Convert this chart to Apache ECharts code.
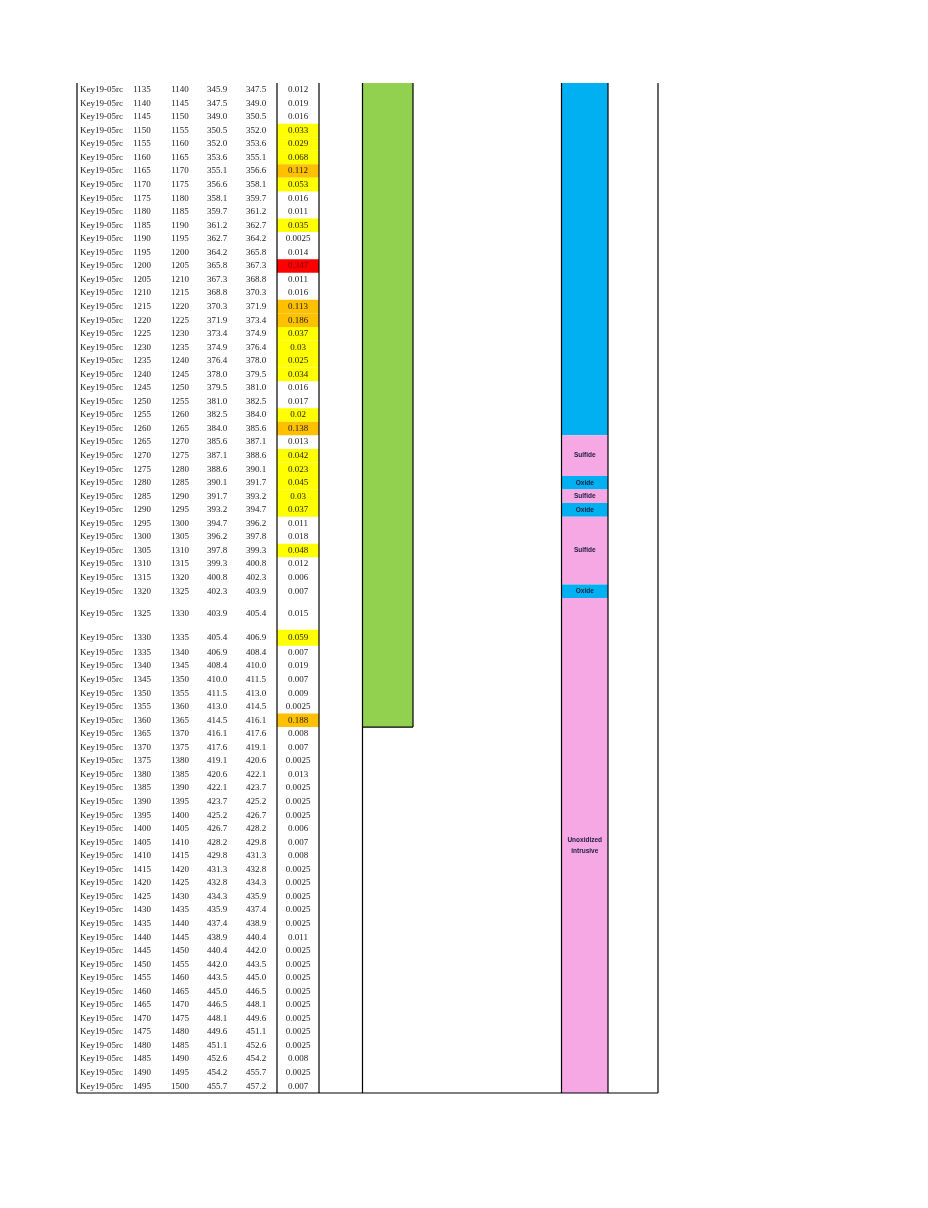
<!DOCTYPE html>
<html>
<head>
<meta charset="utf-8">
<script src="https://cdn.jsdelivr.net/npm/echarts@6/dist/echarts.min.js"></script>
<style>
html, body { margin: 0; padding: 0; background: #fff; }
#main { width: 928px; height: 1208px; }
</style>
</head>
<body>
<div id="main"></div>
<script>
// ---------------- data ----------------
var holeId = 'Key19-05rc';
var fromM = [1135, 1140, 1145, 1150, 1155, 1160, 1165, 1170, 1175, 1180, 1185, 1190, 1195, 1200, 1205, 1210, 1215, 1220, 1225,
  1230, 1235, 1240, 1245, 1250, 1255, 1260, 1265, 1270, 1275, 1280, 1285, 1290, 1295, 1300, 1305, 1310, 1315, 1320, 1325,
  1330, 1335, 1340, 1345, 1350, 1355, 1360, 1365, 1370, 1375, 1380, 1385, 1390, 1395, 1400, 1405, 1410, 1415, 1420, 1425,
  1430, 1435, 1440, 1445, 1450, 1455, 1460, 1465, 1470, 1475, 1480, 1485, 1490, 1495];
var toM = [1140, 1145, 1150, 1155, 1160, 1165, 1170, 1175, 1180, 1185, 1190, 1195, 1200, 1205, 1210, 1215, 1220, 1225, 1230,
  1235, 1240, 1245, 1250, 1255, 1260, 1265, 1270, 1275, 1280, 1285, 1290, 1295, 1300, 1305, 1310, 1315, 1320, 1325, 1330,
  1335, 1340, 1345, 1350, 1355, 1360, 1365, 1370, 1375, 1380, 1385, 1390, 1395, 1400, 1405, 1410, 1415, 1420, 1425, 1430,
  1435, 1440, 1445, 1450, 1455, 1460, 1465, 1470, 1475, 1480, 1485, 1490, 1495, 1500];
var depthFrom = ['345.9', '347.5', '349.0', '350.5', '352.0', '353.6', '355.1', '356.6', '358.1', '359.7', '361.2', '362.7',
  '364.2', '365.8', '367.3', '368.8', '370.3', '371.9', '373.4', '374.9', '376.4', '378.0', '379.5', '381.0', '382.5', '384.0',
  '385.6', '387.1', '388.6', '390.1', '391.7', '393.2', '394.7', '396.2', '397.8', '399.3', '400.8', '402.3', '403.9', '405.4',
  '406.9', '408.4', '410.0', '411.5', '413.0', '414.5', '416.1', '417.6', '419.1', '420.6', '422.1', '423.7', '425.2', '426.7',
  '428.2', '429.8', '431.3', '432.8', '434.3', '435.9', '437.4', '438.9', '440.4', '442.0', '443.5', '445.0', '446.5', '448.1',
  '449.6', '451.1', '452.6', '454.2', '455.7'];
var depthTo = ['347.5', '349.0', '350.5', '352.0', '353.6', '355.1', '356.6', '358.1', '359.7', '361.2', '362.7', '364.2',
  '365.8', '367.3', '368.8', '370.3', '371.9', '373.4', '374.9', '376.4', '378.0', '379.5', '381.0', '382.5', '384.0', '385.6',
  '387.1', '388.6', '390.1', '391.7', '393.2', '394.7', '396.2', '397.8', '399.3', '400.8', '402.3', '403.9', '405.4', '406.9',
  '408.4', '410.0', '411.5', '413.0', '414.5', '416.1', '417.6', '419.1', '420.6', '422.1', '423.7', '425.2', '426.7', '428.2',
  '429.8', '431.3', '432.8', '434.3', '435.9', '437.4', '438.9', '440.4', '442.0', '443.5', '445.0', '446.5', '448.1', '449.6',
  '451.1', '452.6', '454.2', '455.7', '457.2'];
var assay = ['0.012', '0.019', '0.016', '0.033', '0.029', '0.068', '0.112', '0.053', '0.016', '0.011', '0.035', '0.0025',
  '0.014', '0.347', '0.011', '0.016', '0.113', '0.186', '0.037', '0.03', '0.025', '0.034', '0.016', '0.017', '0.02', '0.138',
  '0.013', '0.042', '0.023', '0.045', '0.03', '0.037', '0.011', '0.018', '0.048', '0.012', '0.006', '0.007', '0.015', '0.059',
  '0.007', '0.019', '0.007', '0.009', '0.0025', '0.188', '0.008', '0.007', '0.0025', '0.013', '0.0025', '0.0025', '0.0025',
  '0.006', '0.007', '0.008', '0.0025', '0.0025', '0.0025', '0.0025', '0.0025', '0.011', '0.0025', '0.0025', '0.0025', '0.0025',
  '0.0025', '0.0025', '0.0025', '0.0025', '0.008', '0.0025', '0.007'];

// lithology column
var litFrom = [1135, 1265, 1280, 1285, 1290, 1295, 1320, 1325];
var litTo = [1265, 1280, 1285, 1290, 1295, 1320, 1325, 1500];
var litName = ['', 'Sulfide', 'Oxide', 'Sulfide', 'Oxide', 'Sulfide', 'Oxide', 'Unoxidized\nintrusive'];
var litKind = ['oxide', 'sulfide', 'oxide', 'sulfide', 'oxide', 'sulfide', 'oxide', 'sulfide'];

// green interval
var greenFrom = [1135];
var greenTo = [1365];

// ---------------- layout ----------------
var tallRows = { 1325: 2.35, 1330: 1.18 };   // a couple of rows are taller in the sheet
var rowTop = [];
var acc = 0;
fromM.forEach(function (m) { rowTop.push(acc); acc += tallRows[m] || 1; });
rowTop.push(acc);
var totalRows = acc;
function yOf(m) {
  var i = fromM.indexOf(m);
  return i < 0 ? totalRows : rowTop[i];
}

var tableW = 581;
var col = { hole: 3, from: 65, to: 103, dFrom: 140, dTo: 179, assay: 221 };
var assayL = 200, assayR = 242;
var greenL = 286, greenR = 336;
var litL = 484.5, litR = 531;
var vLines = [0, 200, 242, 285.5, 484.5, 531, 581];

var serif = '9px "Liberation Serif", "Times New Roman", serif';
var labelFont = 'bold 6.5px "Liberation Sans", Arial, sans-serif';
var kindColor = { oxide: '#00B0F0', sulfide: '#F5A8E4' };

function assayFill(v) {
  if (v >= 0.3) return '#FF0000';
  if (v >= 0.1) return '#FFC000';
  if (v >= 0.02) return '#FFFF00';
  return null;
}

var mychart = echarts.init(document.getElementById('main'));

var option = {
  animation: false,
  backgroundColor: '#fff',
  grid: { left: 77, top: 83, width: tableW, height: 1010 },
  xAxis: { type: 'value', min: 0, max: tableW, show: false },
  yAxis: { type: 'value', min: 0, max: totalRows, inverse: true, show: false },
  series: [
    // assay table rows
    {
      type: 'custom',
      z: 2,
      data: fromM.map(function (m, i) { return [i]; }),
      renderItem: function (params, api) {
        var i = api.value(0);
        var top = api.coord([0, rowTop[i]])[1];
        var bot = api.coord([0, rowTop[i + 1]])[1];
        var cy = (top + bot) / 2;
        var children = [];
        var v = parseFloat(assay[i]);
        var fill = assayFill(v);
        if (fill) {
          var l = api.coord([assayL, 0])[0], r = api.coord([assayR, 0])[0];
          children.push({ type: 'rect', shape: { x: l, y: top, width: r - l, height: bot - top }, style: { fill: fill } });
        }
        function txt(s, x, align, color) {
          children.push({
            type: 'text',
            style: {
              text: s, x: api.coord([x, 0])[0], y: cy, font: serif,
              fill: color || '#1a1a1a', textAlign: align, textVerticalAlign: 'middle'
            }
          });
        }
        txt(holeId, col.hole, 'left');
        txt(String(fromM[i]), col.from, 'center');
        txt(String(toM[i]), col.to, 'center');
        txt(depthFrom[i], col.dFrom, 'center');
        txt(depthTo[i], col.dTo, 'center');
        txt(assay[i], col.assay, 'center', v >= 0.3 ? '#7a0000' : '#1a1a1a');
        return { type: 'group', children: children };
      }
    },
    // green interval
    {
      type: 'custom',
      z: 1,
      data: greenFrom.map(function (f, i) { return [f, greenTo[i]]; }),
      renderItem: function (params, api) {
        var p0 = api.coord([greenL, yOf(api.value(0))]);
        var p1 = api.coord([greenR, yOf(api.value(1))]);
        return {
          type: 'group',
          children: [
            { type: 'rect', shape: { x: p0[0], y: p0[1], width: p1[0] - p0[0], height: p1[1] - p0[1] }, style: { fill: '#92D050' } },
            { type: 'line', shape: { x1: p1[0], y1: p0[1], x2: p1[0], y2: p1[1] }, style: { stroke: '#000', lineWidth: 1.2 } },
            { type: 'line', shape: { x1: p0[0], y1: p1[1], x2: p1[0], y2: p1[1] }, style: { stroke: '#000', lineWidth: 1.2 } }
          ]
        };
      }
    },
    // lithology column
    {
      type: 'custom',
      z: 1,
      data: litFrom.map(function (f, i) { return [f, litTo[i], i]; }),
      renderItem: function (params, api) {
        var i = api.value(2);
        var p0 = api.coord([litL, yOf(api.value(0))]);
        var p1 = api.coord([litR, yOf(api.value(1))]);
        var children = [
          { type: 'rect', shape: { x: p0[0], y: p0[1], width: p1[0] - p0[0], height: p1[1] - p0[1] }, style: { fill: kindColor[litKind[i]] } }
        ];
        if (litName[i]) {
          children.push({
            type: 'text',
            style: {
              text: litName[i], x: (p0[0] + p1[0]) / 2, y: (p0[1] + p1[1]) / 2,
              font: labelFont, fill: '#1c1c3c', textAlign: 'center', textVerticalAlign: 'middle', lineHeight: 11
            }
          });
        }
        return { type: 'group', children: children };
      }
    },
    // grid lines
    {
      type: 'custom',
      z: 3,
      data: [[0]],
      renderItem: function (params, api) {
        var top = api.coord([0, 0])[1];
        var bot = api.coord([0, totalRows])[1];
        var children = vLines.map(function (x) {
          var px = api.coord([x, 0])[0];
          return { type: 'line', shape: { x1: px, y1: top, x2: px, y2: bot }, style: { stroke: '#000', lineWidth: 1.2 } };
        });
        children.push({
          type: 'line',
          shape: { x1: api.coord([0, 0])[0], y1: bot, x2: api.coord([tableW, 0])[0], y2: bot },
          style: { stroke: '#000', lineWidth: 1.2 }
        });
        return { type: 'group', children: children };
      }
    }
  ]
};
mychart.setOption(option);
</script>
</body>
</html>
